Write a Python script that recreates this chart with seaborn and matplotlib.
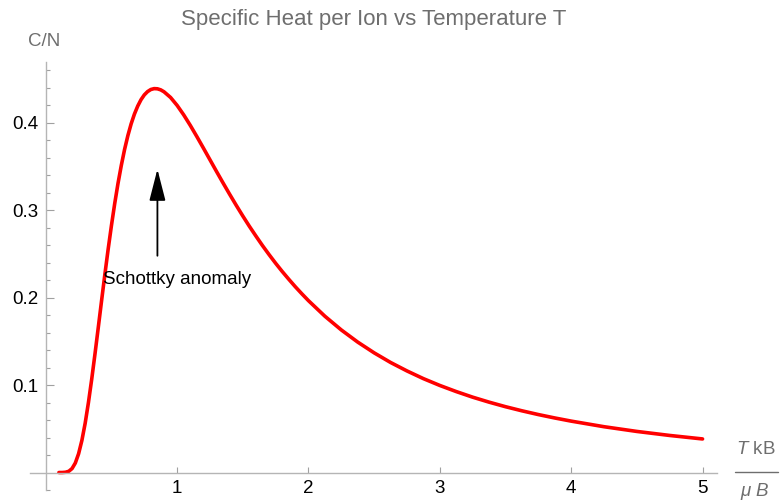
import matplotlib
matplotlib.use("Agg")
import matplotlib.pyplot as plt
import seaborn as sns
import pandas as pd
from matplotlib.lines import Line2D
from matplotlib.ticker import FixedLocator, NullLocator

# Data
temperature = [0.10, 0.125, 0.15, 0.175, 0.20, 0.225, 0.25, 0.275, 0.30, 0.325,
               0.35, 0.375, 0.40, 0.425, 0.45, 0.475, 0.50, 0.525, 0.55, 0.575,
               0.60, 0.625, 0.65, 0.675, 0.70, 0.725, 0.75, 0.775, 0.80, 0.825,
               0.85, 0.875, 0.90, 0.95, 1.00, 1.05, 1.10, 1.15, 1.20, 1.25,
               1.30, 1.35, 1.40, 1.45, 1.50, 1.55, 1.60, 1.65, 1.70, 1.75,
               1.80, 1.85, 1.90, 1.95, 2.00, 2.125, 2.25, 2.375, 2.50, 2.625,
               2.75, 2.875, 3.00, 3.125, 3.25, 3.375, 3.50, 3.625, 3.75, 3.875,
               4.00, 4.25, 4.50, 4.75, 5.00]
specific_heat = [0.0000, 0.0000, 0.0003, 0.0014, 0.0045, 0.0109, 0.0215, 0.0367, 0.0564, 0.0802,
                 0.1070, 0.1360, 0.1662, 0.1967, 0.2267, 0.2555, 0.2826, 0.3078, 0.3308, 0.3513,
                 0.3696, 0.3854, 0.3989, 0.4101, 0.4192, 0.4265, 0.4320, 0.4358, 0.4382, 0.4392,
                 0.4390, 0.4378, 0.4356, 0.4291, 0.4200, 0.4092, 0.3972, 0.3844, 0.3712, 0.3578,
                 0.3444, 0.3312, 0.3183, 0.3057, 0.2935, 0.2817, 0.2705, 0.2596, 0.2493, 0.2394,
                 0.2300, 0.2211, 0.2125, 0.2044, 0.1966, 0.1788, 0.1631, 0.1492, 0.1369, 0.1259,
                 0.1162, 0.1074, 0.0996, 0.0926, 0.0862, 0.0805, 0.0753, 0.0706, 0.0663, 0.0624,
                 0.0588, 0.0524, 0.0470, 0.0424, 0.0384]
x_ticks = [1, 2, 3, 4, 5]
y_ticks = [0.1, 0.2, 0.3, 0.4]
y_minor = [-0.02, 0.02, 0.04, 0.06, 0.08, 0.12, 0.14, 0.16, 0.18, 0.22, 0.24, 0.26,
           0.28, 0.32, 0.34, 0.36, 0.38, 0.42, 0.44, 0.46]
title = "Specific Heat per Ion vs Temperature T"
annotation_text = "Schottky anomaly"

df = pd.DataFrame({"T": temperature, "C": specific_heat})

sns.set_style("white")
plt.rcParams["font.family"] = ["Liberation Sans", "DejaVu Sans"]
plt.rcParams["mathtext.fontset"] = "custom"
plt.rcParams["mathtext.it"] = "Liberation Sans:italic"
plt.rcParams["mathtext.rm"] = "Liberation Sans"

fig = plt.figure(figsize=(7.82, 5.04), dpi=100)
W, H = 782, 504
ax = fig.add_axes([30 / W, 14 / H, (717 - 30) / W, (490 - 61.7) / H])

sns.lineplot(data=df, x="T", y="C", ax=ax, color="#ff0000", linewidth=2.6)

ax.set_xlim(-0.12, 5.11)
ax.set_ylim(-0.02, 0.47)
ax.set_xlabel("")
ax.set_ylabel("")

for s in ["top", "right"]:
    ax.spines[s].set_visible(False)
for s in ["left", "bottom"]:
    ax.spines[s].set_position(("data", 0))
    ax.spines[s].set_color("#b5b5b5")
    ax.spines[s].set_linewidth(1.0)

ax.xaxis.set_major_locator(FixedLocator(x_ticks))
ax.xaxis.set_minor_locator(NullLocator())
ax.yaxis.set_major_locator(FixedLocator(y_ticks))
ax.yaxis.set_minor_locator(FixedLocator(y_minor))
ax.set_xticklabels([str(v) for v in x_ticks])
ax.set_yticklabels([f"{v:.1f}" for v in y_ticks])

ax.tick_params(axis="both", which="both", left=True, bottom=True, top=False, right=False)
ax.tick_params(axis="x", which="major", direction="in", length=4.5, width=0.8,
               color="#a0a0a0", labelsize=13.5, pad=5.5, labelcolor="black")
ax.tick_params(axis="y", which="major", direction="in", length=5.5, width=0.8,
               color="#a0a0a0", labelsize=13.5, pad=5.5, labelcolor="black")
ax.tick_params(axis="y", which="minor", direction="in", length=2.8, width=0.8,
               color="#a0a0a0")

ax.annotate("", xy=(0.85, 0.347), xytext=(0.85, 0.248),
            arrowprops=dict(arrowstyle="-|>,head_length=1.95,head_width=0.5",
                            color="black", lw=1.3, mutation_scale=10,
                            shrinkA=0, shrinkB=0))
ax.text(1.0, 0.221, annotation_text, ha="center", va="center", fontsize=13.5, color="black")

fig.text(374 / W, 1 - 19 / H, title, ha="center", va="center", fontsize=16, color="#6e6e6e")
fig.text(44 / W, 1 - 42 / H, "C/N", ha="center", va="center", fontsize=13.5, color="#6e6e6e")

fig.text(756 / W, 1 - 449 / H, r"$T$ kB", ha="center", va="center", fontsize=13.5, color="#6e6e6e")
fig.text(755 / W, 1 - 492 / H, r"$\mu\ B$", ha="center", va="center", fontsize=13.5, color="#6e6e6e")
fig.add_artist(Line2D([735 / W, 778 / W], [1 - 471.7 / H, 1 - 471.7 / H],
                      transform=fig.transFigure, color="#6e6e6e", linewidth=1.0))

fig.savefig("out.png", dpi=100)
